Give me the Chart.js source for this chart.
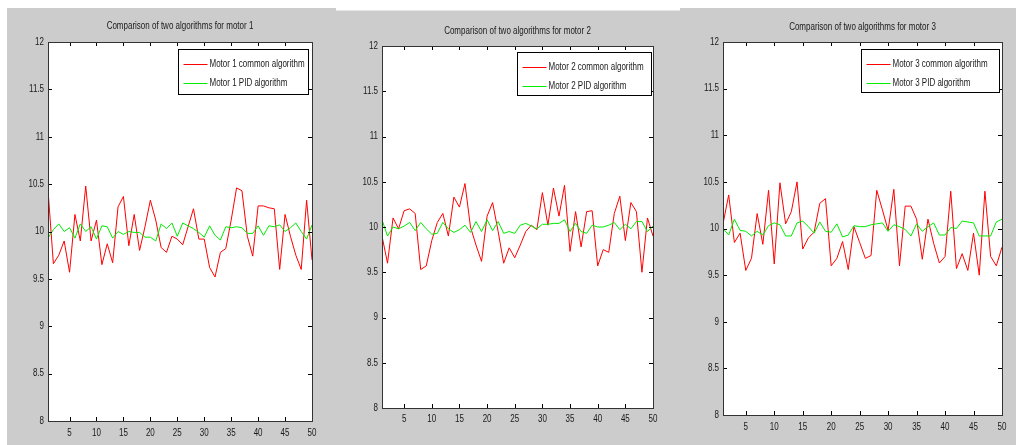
<!DOCTYPE html>
<html>
<head>
<meta charset="utf-8">
<script src="https://cdn.jsdelivr.net/npm/chart.js@4"></script>
<style>
    body { margin: 0; width: 1020px; height: 445px; background: #fff; position: relative; overflow: hidden; }
    .fundo { position: absolute; background: #cccccc; }
    .painel { position: absolute; }
</style>
</head>
<body>
<div class="fundo" style="left:7px; top:8px; width:329px; height:437px;"></div>
<div class="fundo" style="left:336px; top:10px; width:344px; height:435px; border-top:1px solid #e6e6e6;"></div>
<div class="fundo" style="left:680px; top:8px; width:336px; height:437px;"></div>

<div class="painel" style="left:7px; top:8px; width:329px; height:437px;"><canvas id="motor1"></canvas></div>
<div class="painel" style="left:336px; top:11px; width:344px; height:434px;"><canvas id="motor2"></canvas></div>
<div class="painel" style="left:680px; top:8px; width:336px; height:437px;"><canvas id="motor3"></canvas></div>

<script>
// amostras (eixo x) e marcas dos eixos
const amostras = [1, 2, 3, 4, 5, 6, 7, 8, 9, 10, 11, 12, 13, 14, 15, 16, 17, 18, 19, 20,
    21, 22, 23, 24, 25, 26, 27, 28, 29, 30, 31, 32, 33, 34, 35, 36, 37, 38, 39, 40,
    41, 42, 43, 44, 45, 46, 47, 48, 49, 50];
const ticksX = [5, 10, 15, 20, 25, 30, 35, 40, 45, 50];
const ticksY = [8, 8.5, 9, 9.5, 10, 10.5, 11, 11.5, 12];

// Motor 1
const motor1Comum = [10.44, 9.66, 9.75, 9.9, 9.57, 10.18, 9.9, 10.48, 9.9, 10.12,
    9.65, 9.87, 9.67, 10.26, 10.37, 9.85, 10.18, 9.8, 10.05, 10.33,
    10.12, 9.83, 9.78, 9.95, 9.92, 9.86, 10.05, 10.24, 9.92, 9.92,
    9.62, 9.52, 9.78, 9.82, 10.12, 10.46, 10.43, 9.95, 9.74, 10.27,
    10.27, 10.25, 10.24, 9.6, 10.18, 9.95, 9.75, 9.6, 10.33, 9.7];
const motor1PID = [9.93, 10.02, 10.08, 10.0, 10.04, 9.93, 10.08, 10.0, 10.05, 9.92,
    10.06, 10.05, 9.93, 10.0, 9.97, 10.0, 9.99, 9.99, 9.94, 9.94,
    9.9, 10.08, 10.03, 10.09, 9.95, 10.09, 10.06, 10.03, 9.99, 9.94,
    10.06, 9.96, 9.91, 10.05, 10.04, 10.05, 10.04, 9.98, 9.98, 10.06,
    9.96, 10.06, 10.05, 10.07, 10.0, 10.04, 10.09, 10.0, 9.92, 10.07];

// Motor 2
const motor2Comum = [9.9, 9.6, 10.1, 9.98, 10.18, 10.2, 10.15, 9.53, 9.57, 9.85,
    10.05, 10.15, 9.9, 10.33, 10.22, 10.48, 10.0, 9.8, 9.62, 10.12,
    10.27, 9.95, 9.6, 9.77, 9.66, 9.8, 9.95, 10.02, 9.97, 10.38,
    10.02, 10.43, 10.12, 10.46, 9.73, 10.17, 9.78, 10.17, 10.18, 9.57,
    9.75, 9.72, 10.15, 10.34, 9.85, 10.27, 10.17, 9.5, 10.1, 9.9];
const motor2PID = [10.08, 9.9, 10.0, 9.98, 10.01, 10.05, 9.96, 10.05, 9.98, 9.92,
    9.93, 10.05, 9.98, 9.94, 9.97, 10.02, 9.94, 10.06, 9.95, 10.08,
    9.96, 10.06, 9.93, 9.95, 9.93, 10.02, 10.04, 10.01, 9.98, 10.03,
    10.03, 10.04, 10.04, 10.08, 9.95, 10.04, 9.95, 9.93, 10.02, 10.0,
    10.0, 10.02, 10.05, 9.97, 10.03, 9.98, 10.06, 10.06, 9.95, 10.01];

// Motor 3
const motor3Comum = [10.05, 10.36, 9.85, 9.95, 9.55, 9.68, 10.16, 9.83, 10.41, 9.62,
    10.49, 10.05, 10.18, 10.5, 9.78, 9.9, 9.96, 10.27, 10.32, 9.6,
    9.68, 9.86, 9.56, 10.02, 9.85, 9.68, 9.71, 10.41, 10.2, 9.98,
    10.42, 9.6, 10.24, 10.24, 10.1, 9.67, 10.1, 9.84, 9.63, 9.7,
    10.4, 9.57, 9.73, 9.55, 9.95, 9.5, 10.4, 9.7, 9.6, 9.8];
const motor3PID = [10.0, 9.93, 10.1, 9.98, 9.97, 9.92, 9.97, 9.93, 10.03, 10.06,
    10.04, 9.92, 9.92, 10.06, 10.08, 10.02, 9.95, 10.07, 9.97, 9.96,
    10.05, 9.91, 9.93, 10.03, 10.02, 10.02, 10.04, 10.05, 10.06, 9.97,
    10.04, 10.02, 9.99, 9.92, 10.05, 9.97, 10.02, 10.06, 9.93, 9.93,
    10.01, 10.0, 10.08, 10.07, 10.06, 9.92, 9.92, 9.92, 10.07, 10.1];

const fonte = "'Liberation Sans', Arial, sans-serif";
const corTexto = '#1a1a1a';
const aperto = 0.8; // texto estreito, como na figura original

// escreve texto comprimido na horizontal
function textoEstreito(ctx, texto, x, y, alinhamento) {
    ctx.save();
    ctx.translate(x, y);
    ctx.scale(aperto, 1);
    ctx.textAlign = alinhamento;
    ctx.textBaseline = 'middle';
    ctx.fillText(texto, 0, 0);
    ctx.restore();
}

// Fundo branco, caixa dos eixos com marcas para dentro, textos e legenda
const moldura = {
    id: 'moldura',
    beforeDraw(chart) {
        const a = chart.chartArea;
        const ctx = chart.ctx;
        ctx.save();
        ctx.fillStyle = '#fff';
        ctx.fillRect(a.left, a.top, a.right - a.left, a.bottom - a.top);
        ctx.restore();
    },
    afterDatasetsDraw(chart, args, opts) {
        const a = chart.chartArea;
        const ctx = chart.ctx;
        const sx = chart.scales.x;
        const sy = chart.scales.y;
        ctx.save();
        ctx.strokeStyle = '#000';
        ctx.lineWidth = 1;

        // marcas
        ctx.beginPath();
        ticksX.forEach(v => {
            const x = Math.round(sx.getPixelForValue(v)) + 0.5;
            ctx.moveTo(x, a.bottom); ctx.lineTo(x, a.bottom - 4);
            ctx.moveTo(x, a.top); ctx.lineTo(x, a.top + 4);
        });
        ticksY.forEach(v => {
            const y = Math.round(sy.getPixelForValue(v)) + 0.5;
            ctx.moveTo(a.left, y); ctx.lineTo(a.left + 4, y);
            ctx.moveTo(a.right, y); ctx.lineTo(a.right - 4, y);
        });
        ctx.stroke();

        // caixa
        ctx.strokeStyle = '#333';
        ctx.strokeRect(Math.round(a.left) + 0.5, Math.round(a.top) + 0.5,
            Math.round(a.right - a.left), Math.round(a.bottom - a.top));

        // titulo e rotulos dos eixos
        ctx.fillStyle = corTexto;
        ctx.font = '10px ' + fonte;
        textoEstreito(ctx, opts.titulo, (a.left + a.right) / 2, a.top - opts.tituloAcima, 'center');
        ticksX.forEach(v => {
            textoEstreito(ctx, String(v), sx.getPixelForValue(v), a.bottom + opts.rotuloAbaixo, 'center');
        });
        ticksY.forEach(v => {
            textoEstreito(ctx, String(v), a.left - 4, sy.getPixelForValue(v), 'right');
        });

        // legenda
        const lg = opts.legenda;
        const lx = Math.round(a.right - lg.margemDireita - lg.largura) + 0.5;
        const ly = Math.round(a.top + lg.margemTopo) + 0.5;
        ctx.fillStyle = '#fff';
        ctx.fillRect(lx, ly, lg.largura, lg.altura);
        ctx.strokeStyle = '#000';
        ctx.strokeRect(lx, ly, lg.largura, lg.altura);
        chart.data.datasets.forEach((ds, i) => {
            const y = Math.round(ly + 14 + i * 19) + 0.5;
            ctx.strokeStyle = ds.borderColor;
            ctx.beginPath();
            ctx.moveTo(lx + 5, y);
            ctx.lineTo(lx + 29, y);
            ctx.stroke();
            ctx.fillStyle = corTexto;
            textoEstreito(ctx, ds.label, lx + 31, y, 'left');
        });
        ctx.restore();
    }
};

function criarGrafico(id, titulo, comum, pid, nomes, cfg) {
    const ctx = document.getElementById(id).getContext('2d');
    return new Chart(ctx, {
        type: 'line',
        data: {
            datasets: [
                {
                    label: nomes[0],
                    data: amostras.map((x, i) => ({ x: x, y: comum[i] })),
                    borderColor: 'rgb(255, 0, 0)',
                    borderWidth: 1,
                    pointRadius: 0,
                    tension: 0,
                    order: 1
                },
                {
                    label: nomes[1],
                    data: amostras.map((x, i) => ({ x: x, y: pid[i] })),
                    borderColor: 'rgb(0, 235, 0)',
                    borderWidth: 1,
                    pointRadius: 0,
                    tension: 0,
                    order: 0
                }
            ]
        },
        options: {
            responsive: true,
            maintainAspectRatio: false,
            animation: false,
            events: [],
            layout: {
                padding: { left: 0, right: cfg.direita, top: cfg.topo, bottom: 0 }
            },
            plugins: {
                legend: { display: false },
                tooltip: { enabled: false },
                title: { display: false },
                moldura: {
                    titulo: titulo,
                    tituloAcima: cfg.tituloAcima,
                    rotuloAbaixo: cfg.rotuloAbaixo,
                    legenda: cfg.legenda
                }
            },
            scales: {
                x: {
                    type: 'linear',
                    min: 1,
                    max: 50,
                    grid: { display: false },
                    border: { display: false },
                    ticks: { display: false },
                    afterBuildTicks(s) { s.ticks = ticksX.map(v => ({ value: v })); },
                    afterFit(s) { s.height = cfg.alturaX; }
                },
                y: {
                    min: 8,
                    max: 12,
                    grid: { display: false },
                    border: { display: false },
                    ticks: { display: false },
                    afterBuildTicks(s) { s.ticks = ticksY.map(v => ({ value: v })); },
                    afterFit(s) { s.width = cfg.larguraY; }
                }
            }
        },
        plugins: [moldura]
    });
}

document.addEventListener('DOMContentLoaded', () => {
    criarGrafico('motor1', 'Comparison of two algorithms for motor 1', motor1Comum, motor1PID,
        ['Motor 1 common algorithm', 'Motor 1 PID algorithm'],
        { larguraY: 41, alturaX: 24, direita: 24, topo: 34, tituloAcima: 16, rotuloAbaixo: 12,
          legenda: { largura: 130, altura: 45, margemDireita: 4, margemTopo: 7 } });
    criarGrafico('motor2', 'Comparison of two algorithms for motor 2', motor2Comum, motor2PID,
        ['Motor 2 common algorithm', 'Motor 2 PID algorithm'],
        { larguraY: 46, alturaX: 37, direita: 27, topo: 35, tituloAcima: 15, rotuloAbaixo: 11,
          legenda: { largura: 134, altura: 43, margemDireita: 2, margemTopo: 6 } });
    criarGrafico('motor3', 'Comparison of two algorithms for motor 3', motor3Comum, motor3PID,
        ['Motor 3 common algorithm', 'Motor 3 PID algorithm'],
        { larguraY: 43, alturaX: 30, direita: 14, topo: 34, tituloAcima: 15, rotuloAbaixo: 12,
          legenda: { largura: 138, altura: 43, margemDireita: 3, margemTopo: 7 } });
});
</script>
</body>
</html>
